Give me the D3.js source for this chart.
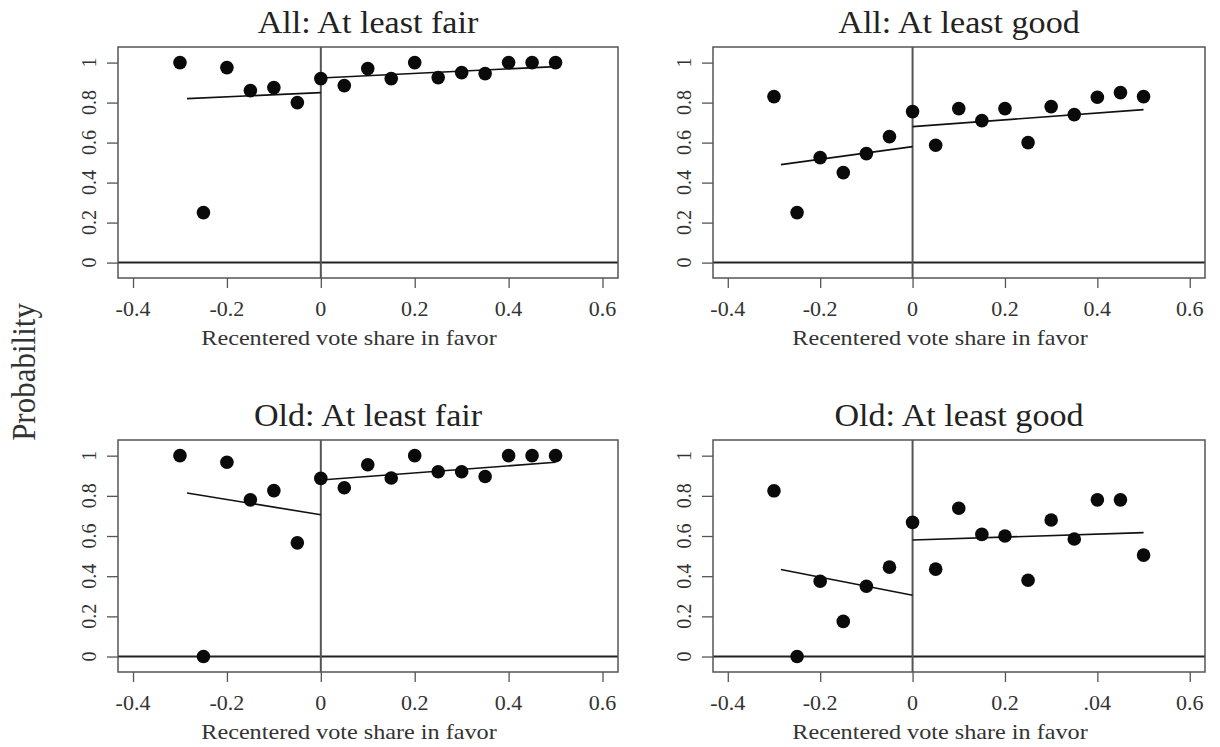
<!DOCTYPE html>
<html><head><meta charset="utf-8">
<script src="https://cdn.jsdelivr.net/npm/d3@7"></script>
<style>
html,body{margin:0;padding:0;background:#fff;}
svg text{font-family:"Liberation Serif","Times New Roman",serif;}
</style></head>
<body><svg id="chart" width="1220" height="747"></svg>
<script>
// ---- data ----
const xBins = [-0.3,-0.25,-0.2,-0.15,-0.1,-0.05,0,0.05,0.1,0.15,0.2,0.25,0.3,0.35,0.4,0.45,0.5];
const allFair = [1.0,0.25,0.975,0.86,0.875,0.80,0.92,0.885,0.97,0.92,1.0,0.925,0.95,0.945,1.0,1.0,1.0];
const allGood = [0.83,0.25,0.525,0.45,0.545,0.63,0.755,0.587,0.77,0.71,0.77,0.60,0.78,0.74,0.827,0.85,0.83];
const oldFair = [1.0,0.0,0.967,0.78,0.826,0.566,0.887,0.84,0.955,0.889,1.0,0.92,0.92,0.896,1.0,1.0,1.0];
const oldGood = [0.825,0.0,0.375,0.175,0.35,0.445,0.668,0.435,0.738,0.608,0.60,0.38,0.68,0.585,0.78,0.78,0.505];
// fitted lines: [left start, left end (at 0), right start (at 0), right end]
const fitX = [-0.285, 0, 0, 0.5];
const allFairFit = [0.82, 0.85, 0.923, 0.98];
const allGoodFit = [0.49, 0.58, 0.68, 0.765];
const oldFairFit = [0.814, 0.706, 0.879, 0.967];
const oldGoodFit = [0.433, 0.305, 0.58, 0.617];
const titles = ["All: At least fair","All: At least good","Old: At least fair","Old: At least good"];
const xTicks = [-0.4,-0.2,0,0.2,0.4,0.6];
const xTickLabels = ["-0.4","-0.2","0","0.2","0.4","0.6"];
const xTickLabelsLast = ["-0.4","-0.2","0","0.2",".04","0.6"];
const yTicks = [0,0.2,0.4,0.6,0.8,1];
const yTickLabels = ["0","0.2","0.4","0.6","0.8","1"];
const xLabel = "Recentered vote share in favor";
const yLabel = "Probability";

const panels = [
  {title:titles[0], y:allFair, fit:allFairFit, xl:xTickLabels, box:[118,47,500,231]},
  {title:titles[1], y:allGood, fit:allGoodFit, xl:xTickLabels, box:[713,47,492,231]},
  {title:titles[2], y:oldFair, fit:oldFairFit, xl:xTickLabels, box:[118,440,500,232]},
  {title:titles[3], y:oldGood, fit:oldGoodFit, xl:xTickLabelsLast, box:[713,440,492,232]}
];

const svg = d3.select("#chart");
const SX = 1.1; // horizontal stretch of glyphs seen in the reference

function htext(g, x, y, str, size, anchor, fill){
  return g.append("text").attr("transform",`translate(${x},${y}) scale(${SX},1)`)
    .attr("text-anchor",anchor).attr("font-size",size).attr("fill",fill).text(str);
}
function vtext(g, x, y, str, size, fill){
  return g.append("text").attr("transform",`translate(${x},${y}) rotate(-90) scale(1,${SX})`)
    .attr("text-anchor","middle").attr("font-size",size).attr("fill",fill).text(str);
}

panels.forEach(p=>{
  const [L,T,W,H] = p.box;
  const x = d3.scaleLinear().domain([-0.432,0.633]).range([L,L+W]);
  const y = d3.scaleLinear().domain([-0.077,1.078]).range([T+H,T]);
  const g = svg.append("g");

  // x axis ticks
  const xa = g.append("g").attr("transform",`translate(0,${T+H})`)
    .call(d3.axisBottom(x).tickValues(xTicks).tickSize(10).tickFormat(""));
  xa.select(".domain").remove();
  xa.selectAll("line").attr("stroke","#555").attr("stroke-width",1.3);
  xTicks.forEach((v,i)=>htext(g, x(v), T+H+38, p.xl[i], 20, "middle", "#333"));

  // y axis ticks
  const ya = g.append("g").attr("transform",`translate(${L},0)`)
    .call(d3.axisLeft(y).tickValues(yTicks).tickSize(11).tickFormat(""));
  ya.select(".domain").remove();
  ya.selectAll("line").attr("stroke","#555").attr("stroke-width",1.3);
  yTicks.forEach((v,i)=>vtext(g, L-22, y(v), yTickLabels[i], 20, "#333"));

  // reference lines
  g.append("line").attr("x1",L).attr("x2",L+W).attr("y1",y(0)).attr("y2",y(0))
    .attr("stroke","#222").attr("stroke-width",2);
  g.append("line").attr("x1",x(0)).attr("x2",x(0)).attr("y1",T).attr("y2",T+H)
    .attr("stroke","#555").attr("stroke-width",2);

  // box
  g.append("rect").attr("x",L).attr("y",T).attr("width",W).attr("height",H)
    .attr("fill","none").attr("stroke","#555").attr("stroke-width",1.5);

  // fitted lines
  const line = d3.line().x(d=>x(d[0])).y(d=>y(d[1]));
  g.append("path").attr("d",line([[fitX[0],p.fit[0]],[fitX[1],p.fit[1]]]))
    .attr("stroke","#111").attr("stroke-width",1.6).attr("fill","none");
  g.append("path").attr("d",line([[fitX[2],p.fit[2]],[fitX[3],p.fit[3]]]))
    .attr("stroke","#111").attr("stroke-width",1.6).attr("fill","none");

  // points
  g.selectAll("circle.pt").data(xBins.map((v,i)=>[v,p.y[i]])).join("circle")
    .attr("class","pt").attr("cx",d=>x(d[0])).attr("cy",d=>y(d[1])).attr("r",6.8).attr("fill","#0a0a0a");

  // title & x label
  htext(g, L+W/2, T-14, p.title, 31, "middle", "#222");
  htext(g, L+W/2-19, T+H+67, xLabel, 22, "middle", "#333");
});

vtext(svg, 35, 372, yLabel, 31, "#333");
</script></body></html>
